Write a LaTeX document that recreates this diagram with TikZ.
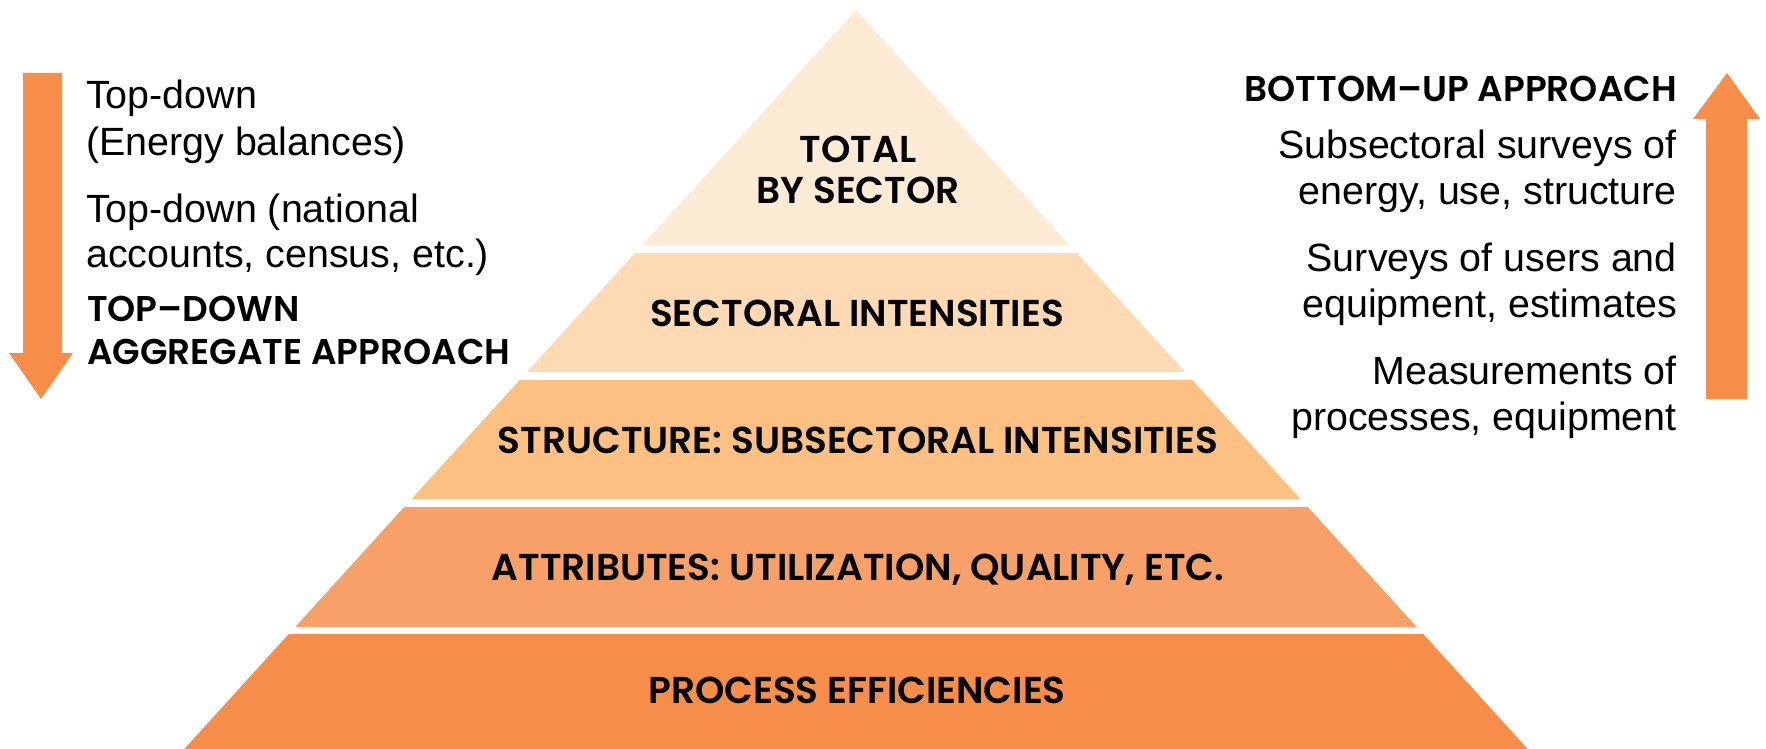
\documentclass[tikz,border=0pt]{standalone}
\usepackage{fontspec}
\setmainfont{Liberation Sans}
\newfontfamily\popf{Poppins}[BoldFont={Poppins SemiBold}]
\definecolor{cA}{RGB}{254,235,214}
\definecolor{cB}{RGB}{253,218,180}
\definecolor{cC}{RGB}{251,192,130}
\definecolor{cD}{RGB}{247,160,103}
\definecolor{cE}{RGB}{246,141,72}
\tikzset{
  layer/.style={fill=#1, draw=none},
  lbl/.style={font=\popf\bfseries\fontsize{37.4}{44}\selectfont, anchor=base, inner sep=0pt},
  side/.style={font=\fontsize{39.4}{46}\selectfont, inner sep=0pt},
  sidebold/.style={font=\popf\bfseries\fontsize{35.8}{42}\selectfont, inner sep=0pt},
  bigarrow/.style={fill=cE, draw=none}
}
\begin{document}
\begin{tikzpicture}[x=1pt,y=-1pt]
\useasboundingbox (0,0) rectangle (1766,749);
% pyramid layers
\fill[layer=cA] (856,10) -- (1069.6,245) -- (642.4,245) -- cycle;
\fill[layer=cB] (635.1,253) -- (1076.9,253) -- (1185.1,372) -- (526.9,372) -- cycle;
\fill[layer=cC] (519.7,380) -- (1192.3,380) -- (1300.5,499) -- (411.5,499) -- cycle;
\fill[layer=cD] (404.2,507) -- (1307.8,507) -- (1416.8,627) -- (295.2,627) -- cycle;
\fill[layer=cE] (288.8,634) -- (1423.2,634) -- (1535,757) -- (177,757) -- cycle;
% layer labels
\node[lbl] (t1a) at (858,162) {TOTAL};
\node[lbl] (t1b) at (858,203) {BY SECTOR};
\node[lbl] (t2) at (857,326) {SECTORAL INTENSITIES};
\node[lbl] (t3) at (858,453) {STRUCTURE: SUBSECTORAL INTENSITIES};
\node[lbl] (t4) at (858,580) {ATTRIBUTES: UTILIZATION, QUALITY, ETC.};
\node[lbl] (t5) at (857,703) {PROCESS EFFICIENCIES};
% left arrow (down)
\fill[bigarrow] (23,73) -- (62,73) -- (62,353) -- (73,353) -- (41,399) -- (9,353) -- (23,353) -- cycle;
% right arrow (up)
\fill[bigarrow] (1706,399) -- (1747,399) -- (1747,119) -- (1760,119) -- (1727,73) -- (1693,119) -- (1706,119) -- cycle;
% left texts
\node[side, anchor=base west] (l1) at (86,109) {Top-down};
\node[side, anchor=base west] (l2) at (86,155) {(Energy balances)};
\node[side, anchor=base west] (l3) at (86,222) {Top-down (national};
\node[side, anchor=base west] (l4) at (86,267) {accounts, census, etc.)};
\node[sidebold, anchor=base west] (l5) at (87,321) {TOP–DOWN};
\node[sidebold, anchor=base west] (l6) at (87,364) {AGGREGATE APPROACH};
% right texts
\node[sidebold, anchor=base east] (r0) at (1677,102) {BOTTOM–UP APPROACH};
\node[side, anchor=base east] (r1) at (1677,158) {Subsectoral surveys of};
\node[side, anchor=base east] (r2) at (1677,204) {energy, use, structure};
\node[side, anchor=base east] (r3) at (1677,271) {Surveys of users and};
\node[side, anchor=base east] (r4) at (1677,317) {equipment, estimates};
\node[side, anchor=base east] (r5) at (1677,384) {Measurements of};
\node[side, anchor=base east] (r6) at (1677,430) {processes, equipment};
\end{tikzpicture}
\end{document}
